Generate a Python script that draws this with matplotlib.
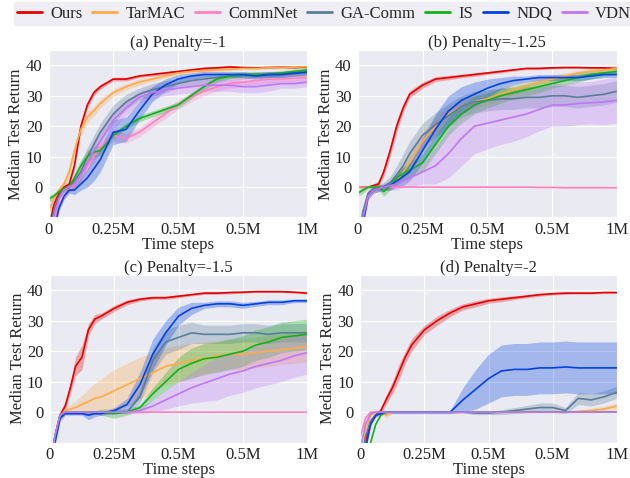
import numpy as np
import matplotlib
matplotlib.use('Agg')
import matplotlib.pyplot as plt
import seaborn as sns
from matplotlib.lines import Line2D

# x positions in millions of time steps (shared by all panels)
X = [0, 0.02, 0.04, 0.06, 0.08, 0.1, 0.125, 0.15, 0.175, 0.2, 0.25, 0.3, 0.35,
     0.4, 0.45, 0.5, 0.55, 0.6, 0.65, 0.7, 0.75, 0.8, 0.85, 0.9, 0.95, 1.0]

labels = ['Ours', 'TarMAC', 'CommNet', 'GA-Comm', 'IS', 'NDQ', 'VDN']
colors = ['#e50000', '#fdaa48', '#ff81c0', '#5a7d9a', '#15b01a', '#0343df', '#bf77f6']
titles = ['(a) Penalty=-1', '(b) Penalty=-1.25', '(c) Penalty=-1.5', '(d) Penalty=-2']
xtick_labels = ['0', '0.25M', '0.5M', '0.5M', '1M']

# ---- (a) penalty -1
a_ours = [-14, -6, -2, 0, 1, 7, 20, 27, 31, 33, 35.5, 35.5, 36.5, 37, 37.5, 38, 38.5, 39, 39.2, 39.5, 39.3, 39.2, 39.3, 39.4, 39.3, 39.5]
a_ours_sd = [1, 1, 1, 0.5, 0.5, 1.5, 1.5, 1.2, 1, 0.8, 0.6, 0.6, 0.5, 0.5, 0.5, 0.4, 0.4, 0.4, 0.4, 0.3, 0.3, 0.3, 0.3, 0.3, 0.3, 0.3]
a_tarmac = [-8, -4, -1, 1, 5, 12, 19, 23, 25, 27.5, 31, 33, 34.5, 35.5, 36.5, 37.5, 38, 38.2, 38.5, 38.7, 39, 39, 39.2, 39.3, 39.4, 39.6]
a_tarmac_sd = [1, 1, 1, 1.5, 2, 2, 2, 2, 1.5, 1.5, 1.2, 1, 1, 0.8, 0.7, 0.6, 0.5, 0.5, 0.5, 0.5, 0.4, 0.4, 0.4, 0.4, 0.4, 0.4]
a_commnet = [-20, -12, -6, -3, -1, 1, 4, 7, 10, 13, 17, 16, 18, 21, 24, 27, 29.5, 31.5, 33, 34, 34.5, 35, 35.5, 35.5, 35.8, 36]
a_commnet_sd = [1, 1, 1, 1, 1, 1.5, 1.5, 1.5, 2, 2, 2, 1.5, 1.5, 1.5, 1.5, 1.5, 1.5, 1.5, 1.5, 1.5, 1.5, 1.5, 1.5, 1.5, 1.5, 1.5]
a_gacomm = [-16, -8, -3, -1, 0, 2, 5, 10, 14, 18, 24, 28, 30.5, 32, 33, 34, 35, 35.5, 36, 36.5, 36.5, 37, 37, 37, 37.2, 37.5]
a_gacomm_sd = [1, 1, 1, 1, 1.5, 2, 3, 3, 3, 3, 3, 2.5, 2, 2, 2, 1.5, 1.5, 1.5, 1.5, 1, 1, 1, 1, 1, 1, 1]
a_is = [-4, -3, -1.5, -0.5, 0, 3, 7, 10, 11.5, 12, 17, 20, 22.5, 24, 25.5, 27, 30, 33, 35.5, 36.5, 37, 37, 37, 37.5, 38, 38.5]
a_is_sd = [1, 1, 1, 1, 1, 1.5, 2, 2, 2, 1.5, 1, 1, 1, 1, 1, 1, 1, 1, 1, 0.8, 0.8, 0.8, 0.8, 0.8, 0.8, 0.8]
a_ndq = [-25, -15, -7, -3, -1, -1, 1, 3, 6, 9, 18, 19, 25, 30.5, 33.5, 35.5, 36.5, 37, 37, 37, 37, 36.5, 37, 37, 37.5, 37.8]
a_ndq_sd = [1, 1, 1, 1, 1, 1.5, 2, 3, 4, 4, 4, 4, 3, 2.5, 2, 1.5, 1, 1, 1, 1, 1, 1, 1, 1, 1, 1]
a_vdn = [-20, -10, -4, -1, 0, 1, 4, 8, 12, 15, 22, 26, 29.5, 31, 32, 32.5, 33, 33.5, 33.5, 33.5, 33, 33, 33.5, 34, 34, 34.5]
a_vdn_sd = [1, 1, 1, 1, 1, 1.5, 2, 3, 3, 3, 3, 2.5, 2, 2, 2, 2, 2, 2, 2, 2, 2, 2, 2, 1.5, 1.5, 1.5]

# ---- (b) penalty -1.25
b_ours = [0, 0, 0, 0.5, 1, 5, 12, 20, 26, 30.5, 33.5, 35.5, 36, 36.5, 37, 37.5, 38, 38.5, 39, 39, 39.2, 39.3, 39.3, 39.2, 39.2, 39]
b_ours_sd = [0.3, 0.3, 0.3, 0.5, 1, 1.5, 2, 2, 1.5, 1.2, 1, 0.8, 0.7, 0.6, 0.6, 0.5, 0.5, 0.4, 0.4, 0.4, 0.4, 0.3, 0.3, 0.3, 0.3, 0.3]
b_tarmac = [-20, -8, -2, -1, -0.5, 0, 0.5, 2, 5, 8, 15, 20, 24, 26.5, 28, 29, 30.5, 32, 33, 34.5, 35.5, 36.5, 37.5, 38, 38.5, 39]
b_tarmac_sd = [1, 1, 1, 1, 1, 1, 1.5, 2, 2.5, 3, 3, 3, 2.5, 2.5, 2, 2, 2, 1.5, 1.5, 1.5, 1.5, 1, 1, 1, 1, 1]
b_commnet = [0, 0, 0, 0, 0, 0, 0, 0, 0, 0, 0, 0, 0, 0, 0, 0, 0, 0, 0, -0.1, -0.1, -0.2, -0.2, -0.2, -0.2, -0.2]
b_commnet_sd = [0.1, 0.1, 0.1, 0.1, 0.1, 0.1, 0.1, 0.1, 0.1, 0.1, 0.1, 0.1, 0.1, 0.1, 0.1, 0.1, 0.1, 0.1, 0.1, 0.1, 0.1, 0.1, 0.1, 0.1, 0.1, 0.1]
b_gacomm = [-18, -8, -2, -0.5, 0, 0, 1.5, 4, 7, 11, 17, 20.5, 23.5, 26.5, 28, 28.5, 29, 29, 29.5, 29.5, 30, 30, 29.5, 30, 30.5, 31.5]
b_gacomm_sd = [1, 1, 1, 1, 1, 1.5, 2, 3, 4, 4, 4, 4, 4, 3.5, 3.5, 3.5, 3.5, 3.5, 3.5, 3.5, 3.5, 3.5, 3.5, 3.5, 3.5, 3.5]
b_is = [-2, -1, 0, 0, 0, -1.5, 0.5, 3, 4.5, 5.5, 8, 14, 20, 24, 27, 28.5, 30, 31, 32, 33, 34, 35, 36, 37, 37.5, 38]
b_is_sd = [1, 1, 0.5, 0.5, 1, 1.5, 1.5, 2, 2, 2.5, 3, 3, 3, 3, 3, 2.5, 2.5, 2, 2, 2, 1.5, 1.5, 1.5, 1.5, 1, 1]
b_ndq = [-25, -12, -3, -1, -0.5, 0, 0.5, 2, 3.5, 5, 12, 19, 25, 28.5, 30.5, 32.5, 34, 35, 35.5, 36, 36, 36, 36, 36.5, 37, 37]
b_ndq_sd = [1, 1, 1, 1, 1, 1, 1.5, 2, 3, 3, 4, 5, 5, 4.5, 4, 3, 2, 1.5, 1, 1, 1, 1, 1, 1, 1, 1]
b_vdn = [-20, -10, -3, -1, -0.5, 0, 0.5, 1, 2, 3, 5, 7, 11, 16, 20, 21, 22, 23, 24, 25.5, 27, 27, 27.5, 27.7, 28, 28.5]
b_vdn_sd = [1, 1, 1, 1, 1, 1, 1.5, 2, 2, 3, 4, 6, 8, 9, 9, 8.5, 8, 8, 7.5, 7, 7, 7, 7, 7, 7.5, 7.5]

# ---- (c) penalty -1.5
c_ours = [-20, -8, -1, 2, 8, 15, 18, 27, 30.5, 31.5, 34, 36, 37, 37.5, 37.5, 38, 38.5, 39, 39, 39.2, 39.3, 39.5, 39.5, 39.5, 39.3, 39]
c_ours_sd = [1, 1, 1, 1.5, 2, 3, 4, 2, 1.5, 1, 1, 0.8, 0.6, 0.5, 0.5, 0.5, 0.4, 0.4, 0.4, 0.4, 0.3, 0.3, 0.3, 0.3, 0.3, 0.3]
c_tarmac = [-20, -8, -1, 0.5, 1, 1.5, 2.5, 3.5, 4.5, 5, 7, 9, 11, 13, 15, 16, 17, 17.5, 18.5, 19, 19, 19.5, 20, 20.5, 21, 21.5]
c_tarmac_sd = [1, 1, 1, 1, 1.5, 2, 3, 4, 5, 6, 7, 7, 7, 6.5, 6, 6, 5.5, 5.5, 5, 5, 5, 5, 5, 5, 5, 5]
c_commnet = [-20, -8, -1, 0, 0, 0, 0, 0, 0, 0, 0, 0, 0, 0, 0, 0, 0, 0, 0, 0, 0, 0, 0, 0, 0, 0]
c_commnet_sd = [0.1, 0.1, 0.1, 0.1, 0.1, 0.1, 0.1, 0.1, 0.1, 0.1, 0.1, 0.1, 0.1, 0.1, 0.1, 0.1, 0.1, 0.1, 0.1, 0.1, 0.1, 0.1, 0.1, 0.1, 0.1, 0.1]
c_gacomm = [-20, -8, -1, 0, 0, 0, 0, 0, 0, 0, 0, 0, 5, 17, 23, 24.5, 26, 25.5, 25.5, 25.5, 26, 26, 25.5, 26, 26, 26]
c_gacomm_sd = [0.5, 0.5, 0.5, 0.5, 0.5, 0.5, 0.5, 0.5, 0.5, 0.5, 0.5, 0.5, 2, 4, 4, 4, 3.5, 3, 3, 3, 3, 3, 3, 3, 3, 3]
c_is = [-20, -8, -1, 0, 0, 0, 0, 0, 0, 0, -0.5, 0, 1.5, 6, 10, 14, 16, 17.5, 18, 19, 20, 22, 23, 24.5, 25, 25.5]
c_is_sd = [0.5, 0.5, 0.5, 0.5, 0.5, 0.5, 0.5, 0.5, 0.5, 1, 1.5, 1, 1, 2, 3, 4, 5, 5, 5, 5, 5, 5, 5, 5, 5, 5]
c_ndq = [-25, -10, -2, -0.5, -0.5, -0.5, -0.5, -1, -0.5, -0.5, 0.5, 2.5, 9, 19, 26, 31.5, 34, 35, 35.5, 35.5, 35, 35.5, 36, 36, 36.5, 36.5]
c_ndq_sd = [1, 1, 1, 0.5, 0.5, 0.5, 0.5, 1.5, 1, 0.5, 1, 2, 4, 5, 4, 3, 2, 1, 1, 1, 1, 0.8, 0.8, 0.8, 0.6, 0.6]
c_vdn = [-20, -8, -1, 0, 0, 0, 0, 0, 0, 0, 0, 0, 0.5, 2, 4, 6, 8, 9.5, 11, 12.5, 13.5, 15, 16, 17, 18.5, 19.5]
c_vdn_sd = [0.5, 0.5, 0.5, 0.5, 0.5, 0.5, 0.5, 0.5, 0.5, 0.5, 0.5, 0.5, 1, 2, 3, 4, 5, 6, 7, 7, 7, 7, 7, 7, 7, 7]

# ---- (d) penalty -2
d_ours = [-25, -10, -3, -1, 0.5, 4, 8, 13, 18, 22, 27, 30, 32.5, 34.5, 35.5, 36.5, 37, 37.5, 38, 38.5, 38.8, 39, 39, 39, 39.2, 39.2]
d_ours_sd = [1, 1, 1, 0.5, 1, 1.5, 2, 2.5, 2, 2, 1.5, 1.5, 1.2, 1, 1, 0.8, 0.8, 0.6, 0.5, 0.5, 0.4, 0.4, 0.3, 0.3, 0.3, 0.3]
d_tarmac = [-20, -6, -1, 0, 0, -1, 0, 0, 0, 0, 0, 0, 0, 0, 0, 0, 0, 0, 0, 0, 0, 0, 0.2, 0.5, 1, 2]
d_tarmac_sd = [0.5, 0.5, 0.5, 0.5, 0.5, 1, 0.3, 0.3, 0.3, 0.3, 0.3, 0.3, 0.3, 0.3, 0.3, 0.3, 0.3, 0.3, 0.3, 0.3, 0.3, 0.3, 0.5, 0.8, 1, 1]
d_commnet = [-8, -2, 0, 0, 0, 0, 0, 0, 0, 0, 0, 0, 0, 0, 0, 0, 0, 0, 0, 0, 0, 0, 0, 0, 0, 0]
d_commnet_sd = [0.1, 0.1, 0.1, 0.1, 0.1, 0.1, 0.1, 0.1, 0.1, 0.1, 0.1, 0.1, 0.1, 0.1, 0.1, 0.1, 0.1, 0.1, 0.1, 0.1, 0.1, 0.1, 0.1, 0.1, 0.1, 0.1]
d_gacomm = [-20, -8, -3, -1, 0, 0, 0, 0, 0, 0, 0, 0, 0, 0, -0.3, -0.3, 0, 0.5, 1, 1.5, 1.5, 0.5, 4.5, 4, 5, 6.5]
d_gacomm_sd = [0.5, 0.5, 0.5, 0.5, 0.3, 0.3, 0.3, 0.3, 0.3, 0.3, 0.3, 0.3, 0.3, 0.3, 0.5, 0.5, 0.8, 1, 1.2, 1.5, 1.5, 1, 2, 2, 2, 2]
d_is = [-30, -20, -10, -4, -1, 0, 0, 0, 0, 0, 0, 0, 0, 0, 0, 0, 0, 0, 0, 0, 0, 0, 0, 0, 0, 0]
d_is_sd = [0.1, 0.1, 0.1, 0.1, 0.1, 0.1, 0.1, 0.1, 0.1, 0.1, 0.1, 0.1, 0.1, 0.1, 0.1, 0.1, 0.1, 0.1, 0.1, 0.1, 0.1, 0.1, 0.1, 0.1, 0.1, 0.1]
d_ndq = [-25, -12, -4, -1, -0.5, 0, 0, 0, 0, 0, 0, 0, 0, 4, 7.5, 11, 13.5, 14, 14, 14.5, 14.5, 14.8, 14.5, 14.5, 14.5, 14.5]
d_ndq_sd = [0.5, 0.5, 0.5, 0.5, 0.5, 0.5, 0.5, 0.5, 0.5, 0.5, 0.5, 0.5, 0.5, 4, 6.5, 8, 8.5, 8.5, 8.5, 8.5, 8.5, 8.5, 8.5, 8.5, 8.5, 8.5]
d_vdn = [-12, -4, -0.5, 0, 0, 0, 0, 0, 0, 0, 0, 0, 0, 0, 0, 0, 0, 0, 0, 0, 0, 0, 0, 0, 0, 0]
d_vdn_sd = [0.1, 0.1, 0.1, 0.1, 0.1, 0.1, 0.1, 0.1, 0.1, 0.1, 0.1, 0.1, 0.1, 0.1, 0.1, 0.1, 0.1, 0.1, 0.1, 0.1, 0.1, 0.1, 0.1, 0.1, 0.1, 0.1]

panels = [
    [(a_ours, a_ours_sd), (a_tarmac, a_tarmac_sd), (a_commnet, a_commnet_sd), (a_gacomm, a_gacomm_sd),
     (a_is, a_is_sd), (a_ndq, a_ndq_sd), (a_vdn, a_vdn_sd)],
    [(b_ours, b_ours_sd), (b_tarmac, b_tarmac_sd), (b_commnet, b_commnet_sd), (b_gacomm, b_gacomm_sd),
     (b_is, b_is_sd), (b_ndq, b_ndq_sd), (b_vdn, b_vdn_sd)],
    [(c_ours, c_ours_sd), (c_tarmac, c_tarmac_sd), (c_commnet, c_commnet_sd), (c_gacomm, c_gacomm_sd),
     (c_is, c_is_sd), (c_ndq, c_ndq_sd), (c_vdn, c_vdn_sd)],
    [(d_ours, d_ours_sd), (d_tarmac, d_tarmac_sd), (d_commnet, d_commnet_sd), (d_gacomm, d_gacomm_sd),
     (d_is, d_is_sd), (d_ndq, d_ndq_sd), (d_vdn, d_vdn_sd)],
]

sns.set_style('darkgrid')
plt.rcParams['font.family'] = ['Liberation Serif', 'DejaVu Serif']

fig = plt.figure(figsize=(6.3, 4.78), dpi=100)
# axes boxes in figure fractions: left, bottom, width, height
boxes = [(0.077, 0.545, 0.411, 0.35), (0.568, 0.545, 0.411, 0.35),
         (0.079, 0.074, 0.409, 0.351), (0.572, 0.074, 0.407, 0.351)]

x = np.array(X)
for k in range(4):
    ax = fig.add_axes(boxes[k])
    for i in range(len(labels)):
        mean = np.array(panels[k][i][0])
        sd = np.array(panels[k][i][1])
        ax.fill_between(x, mean - sd, mean + sd, color=colors[i], alpha=0.3, lw=0)
        ax.plot(x, mean, color=colors[i], lw=1.2)
    ax.set_xlim(0, 1.0)
    ax.set_ylim(-10, 45)
    ax.set_xticks([0, 0.25, 0.5, 0.75, 1.0])
    ax.set_xticklabels(xtick_labels)
    ax.set_yticks([0, 10, 20, 30, 40])
    ax.tick_params(labelsize=12, colors='#222222')
    ax.tick_params(axis='x', pad=0)
    ax.tick_params(axis='y', pad=1)
    ax.set_title(titles[k], fontsize=12, pad=2)
    ax.set_xlabel('Time steps', fontsize=12, labelpad=-1)
    ax.set_ylabel('Median Test Return', fontsize=12, labelpad=1)

handles = [Line2D([], [], color=c, lw=2) for c in colors]
leg = fig.legend(handles, labels, loc='lower left', bbox_to_anchor=(0.022, 0.948, 0.985, 0.05),
                 mode='expand', ncol=7, fontsize=12, handlelength=1.5, handletextpad=0.5,
                 columnspacing=0.6, borderaxespad=0, frameon=True, borderpad=0.2)
leg.get_frame().set_facecolor('#eaeaf2')
leg.get_frame().set_edgecolor('#eaeaf2')

fig.savefig('out.png', dpi=100)
